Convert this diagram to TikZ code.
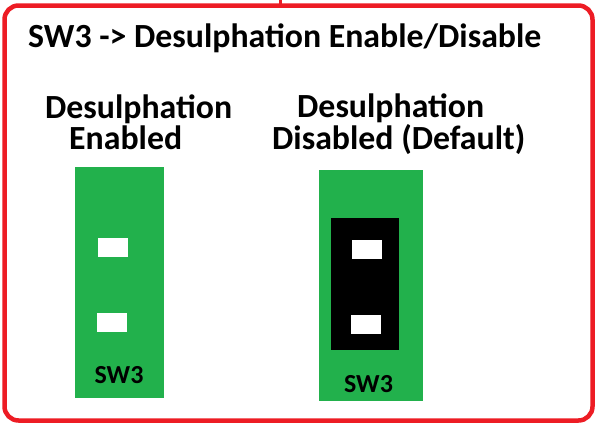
\documentclass[tikz,border=0pt]{standalone}
\usepackage{fontspec}
\setmainfont{Carlito}
\definecolor{paintgreen}{HTML}{22B14C}
\definecolor{paintred}{HTML}{ED1C24}
\newcommand{\bigtxt}{\fontsize{33.8}{33.8}\selectfont\bfseries}
\newcommand{\swtxt}{\fontsize{26}{26}\selectfont\bfseries}
\begin{document}
\begin{tikzpicture}[x=1pt, y=-1pt,
    board/.style={fill=paintgreen, inner sep=0pt, anchor=north west, minimum width=#1},
    jumper/.style={fill=black, inner sep=0pt, anchor=north west, minimum width=68pt, minimum height=132pt},
    slot/.style={fill=white, inner sep=0pt, minimum width=30pt, minimum height=19pt},
    heading/.style={anchor=base west, inner sep=0pt, font=\bigtxt},
    swlabel/.style={anchor=base, inner sep=0pt, font=\swtxt}]
  \useasboundingbox (0,0) rectangle (596,423);
  % red frame, with the little stub on top
  \draw[paintred, line width=4.5pt, rounded corners=14pt] (4.5,5.5) rectangle (592.5,420.5);
  \draw[paintred, line width=3pt] (280,0) -- (280,5);
  \node[heading] (title) at (28,47) {SW3 -> Desulphation Enable/Disable};
  % left switch: enabled
  \node[heading] (enA) at (45,118) {Desulphation};
  \node[heading] (enB) at (69,149) {Enabled};
  \node[board=89pt, minimum height=231pt] (swen) at (75,167) {};
  \node[slot] (swenpinA) at (113,247.5) {};
  \node[slot] (swenpinB) at (112,322.5) {};
  \node[swlabel] (swenlbl) at (119,383) {SW3};
  % right switch: disabled, jumper fitted
  \node[heading] (disA) at (297,117.5) {Desulphation};
  \node[heading] (disB) at (272,149.5) {Disabled (Default)};
  \node[board=104pt, minimum height=231pt] (swdis) at (319,170) {};
  \node[jumper] (jmp) at (331,218) {};
  \node[slot] (swdispinA) at (367,249.5) {};
  \node[slot] (swdispinB) at (366,324.5) {};
  \node[swlabel] (swdislbl) at (368.5,392) {SW3};
\end{tikzpicture}
\end{document}
